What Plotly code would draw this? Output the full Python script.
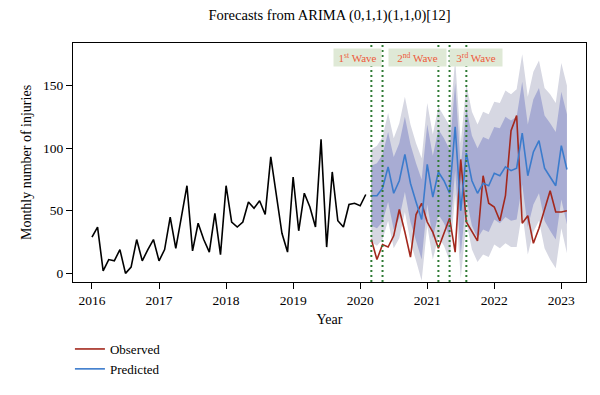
import plotly.graph_objects as go

# ---------------- data ----------------
hist_start = 2016.0          # Jan 2016, monthly
history = [29, 37, 2, 11, 10, 19, 0, 5, 27, 10, 19, 27,
           10, 19, 45, 20, 45, 70, 18, 40, 27, 17, 48, 15,
           70, 41, 37, 41, 57, 52, 58, 47, 93, 62, 32, 17,
           77, 34, 64, 53, 37, 107, 21, 81, 42, 37, 55, 56,
           54, 63]

fc_start = 2020 + 2 / 12     # Mar 2020, monthly
observed = [27, 11, 23, 21, 30, 51, 33, 13, 47, 56, 41, 33,
            20, 32, 44, 17, 91, 41, 33, 26, 78, 56, 53, 42,
            62, 114, 126, 40, 46, 24, 36, 51, 66, 49, 49, 50]
predicted = [62, 62, 68, 85, 64, 74, 95, 72, 57, 43, 87, 61,
             81, 74, 64, 117, 50, 96, 74, 64, 72, 70, 80, 78,
             85, 82, 84, 112, 78, 97, 106, 84, 77, 70, 102, 83]
lo80 = [38, 36, 41, 57, 35, 44, 65, 41, 26, 11, 55, 28,
        47, 40, 29, 82, 15, 60, 38, 28, 35, 33, 43, 40,
        45, 42, 43, 71, 37, 55, 64, 42, 34, 27, 59, 39]
hi80 = [86, 88, 95, 113, 93, 104, 125, 103, 88, 75, 119, 94,
        115, 108, 99, 152, 85, 132, 110, 100, 109, 107, 117, 116,
        125, 122, 125, 153, 119, 139, 148, 126, 120, 113, 145, 127]
lo95 = [25, 22, 27, 42, 20, 28, 49, 25, 10, -6, 38, 11,
        29, 22, 10, 63, -4, 41, 19, 9, 15, 13, 23, 20,
        24, 21, 21, 49, 15, 33, 42, 20, 11, 4, 36, 16]
hi95 = [99, 102, 109, 128, 108, 120, 141, 119, 104, 92, 136, 111,
        133, 126, 118, 171, 104, 151, 129, 119, 129, 127, 137, 136,
        146, 143, 147, 175, 141, 161, 170, 148, 143, 136, 168, 150]

wave_lines = [2020 + 2 / 12, 2020 + 4 / 12, 2021 + 2 / 12, 2021 + 4 / 12, 2021 + 7 / 12]
wave_labels = ["1<sup>st</sup> Wave", "2<sup>nd</sup> Wave", "3<sup>rd</sup> Wave"]
wave_label_x = [2019.955, 2020.848, 2021.727]

year_ticks = [2016, 2017, 2018, 2019, 2020, 2021, 2022, 2023]
y_ticks = [0, 50, 100, 150]

title_text = "Forecasts from ARIMA (0,1,1)(1,1,0)[12]"

# ---------------- figure ----------------
hx = [hist_start + i / 12 for i in range(len(history))]
fx = [fc_start + i / 12 for i in range(len(predicted))]

SERIF = "Liberation Serif, Times New Roman, serif"
C95 = "#d6d7e2"
C80 = "#a8acd3"
RED = "#a3281d"
BLUE = "#3b7bcc"

# page body has an 8px margin: size the figure to fill the rest of the window
W, H = 592, 387

fig = go.Figure()
fig.add_trace(go.Scatter(x=fx, y=lo95, mode="lines", line=dict(width=0, color=C95),
                         showlegend=False, hoverinfo="skip"))
fig.add_trace(go.Scatter(x=fx, y=hi95, mode="lines", line=dict(width=0, color=C95),
                         fill="tonexty", fillcolor=C95, showlegend=False, hoverinfo="skip"))
fig.add_trace(go.Scatter(x=fx, y=lo80, mode="lines", line=dict(width=0, color=C80),
                         showlegend=False, hoverinfo="skip"))
fig.add_trace(go.Scatter(x=fx, y=hi80, mode="lines", line=dict(width=0, color=C80),
                         fill="tonexty", fillcolor=C80, showlegend=False, hoverinfo="skip"))
fig.add_trace(go.Scatter(x=hx, y=history, mode="lines", line=dict(color="black", width=1.6),
                         showlegend=False, name="History"))
fig.add_trace(go.Scatter(x=fx, y=observed, mode="lines", line=dict(color=RED, width=1.6),
                         name="Observed"))
fig.add_trace(go.Scatter(x=fx, y=predicted, mode="lines", line=dict(color=BLUE, width=1.6),
                         name="Predicted"))

for xv in wave_lines:
    fig.add_shape(type="line", x0=xv, x1=xv, xref="x", yref="paper", y0=0, y1=1,
                  line=dict(color="#2f7a34", width=2, dash="2px,3px"))

for txt, xv, wd in zip(wave_labels, wave_label_x, [44, 54, 49]):
    fig.add_annotation(x=xv, y=172.6, xref="x", yref="y", text=txt, showarrow=False,
                       font=dict(family=SERIF, size=11, color="#ee5a3a"),
                       bgcolor="#dfe9d6", borderpad=1.5, width=wd)

axis_common = dict(showline=True, linecolor="black", linewidth=1, mirror=True,
                   ticks="outside", ticklen=6, tickcolor="black", tickwidth=1,
                   showgrid=False, zeroline=False, automargin=False,
                   tickfont=dict(family=SERIF, size=13.5, color="black"))

fig.update_layout(
    width=W, height=H,
    margin=dict(l=65, r=14, t=35, b=113, autoexpand=False),
    plot_bgcolor="white", paper_bgcolor="white",
    title=dict(text=title_text, x=0.5, xref="paper", xanchor="center",
               y=1 - 2 / H, yanchor="top", yref="container", pad=dict(t=0, b=0),
               font=dict(family=SERIF, size=14.5, color="black")),
    xaxis=dict(range=[2015.717, 2023.368], tickvals=year_ticks,
               ticktext=[str(v) for v in year_ticks],
               title=dict(text="Year", standoff=6, font=dict(family=SERIF, size=14, color="black")),
               **axis_common),
    yaxis=dict(range=[-6.9, 184], tickvals=y_ticks,
               title=dict(text="Monthly number of injuries", standoff=8,
                          font=dict(family=SERIF, size=14, color="black")),
               **axis_common),
    legend=dict(x=-0.006, xanchor="left", y=-0.2176, yanchor="top",
                font=dict(family=SERIF, size=13, color="black"),
                bgcolor="rgba(0,0,0,0)", tracegroupgap=0, traceorder="normal"),
    showlegend=True,
)

fig.write_html("out.html")
